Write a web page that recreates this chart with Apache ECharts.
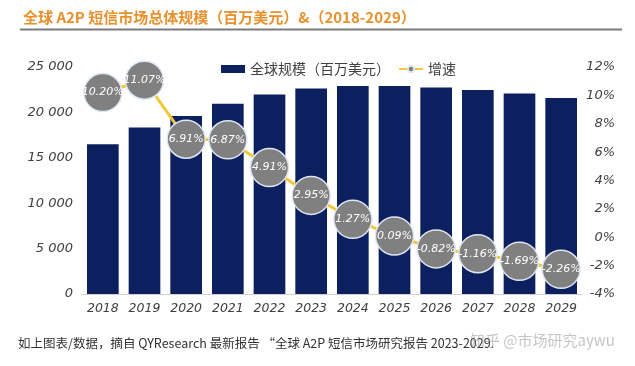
<!DOCTYPE html>
<html><head><meta charset="utf-8">
<script src="https://cdn.jsdelivr.net/npm/echarts@6/dist/echarts.min.js"></script>
<style>html,body{margin:0;padding:0;background:#fff}#c{width:635px;height:366px}</style>
</head><body><div id="c"></div>
<script>
const years = ['2018','2019','2020','2021','2022','2023','2024','2025','2026','2027','2028','2029'];
const marketSize = [16500,18330,19590,20940,21970,22620,22900,22920,22730,22470,22090,21590];
const growthRate = [10.20,11.07,6.91,6.87,4.91,2.95,1.27,0.09,-0.82,-1.16,-1.69,-2.26];
const leftTicks = [0,5000,10000,15000,20000,25000];
const rightTicks = [-4,-2,0,2,4,6,8,10,12];

const numFont = 'DejaVu Sans';
const chart = echarts.init(document.getElementById('c'));
chart.setOption({
  animation:false,
  title:{text:'全球 A2P 短信市场总体规模（百万美元）&（2018-2029）',left:18,top:5,
    textStyle:{color:'#e8912c',fontSize:15,fontWeight:'bold',fontFamily:'Noto Sans CJK SC'}},
  graphic:[
    {type:'line',shape:{x1:20,y1:29.5,x2:622,y2:29.5},style:{stroke:'#7a7a80',lineWidth:2}},
    {type:'text',left:18,top:337,style:{text:'如上图表/数据，摘自 QYResearch 最新报告 “全球 A2P 短信市场研究报告 2023-2029.',fill:'#333',font:'12.5px "Noto Sans CJK SC"'}},
    {type:'text',left:470,top:333,style:{text:'知乎 @市场研究aywu',fill:'rgba(150,150,150,0.55)',font:'15px "Noto Sans CJK SC"'}}
  ],
  legend:{left:216,top:57,itemGap:8,itemWidth:24,itemHeight:8,
    textStyle:{color:'#404040',fontSize:14,fontFamily:'Noto Sans CJK SC'},
    data:[{name:'全球规模（百万美元）',icon:'rect'},{name:'增速'}]},
  grid:{left:82,right:53,top:67,bottom:72},
  xAxis:{type:'category',data:years,
    axisLine:{lineStyle:{color:'#d0d0d0'}},axisTick:{show:false},
    axisLabel:{color:'#404040',fontSize:12.5,fontStyle:'italic',fontFamily:numFont,margin:8}},
  yAxis:[
    {type:'value',min:0,max:25000,interval:5000,splitLine:{show:false},
     axisLine:{show:false},axisTick:{show:false},
     axisLabel:{color:'#404040',fontSize:13,fontStyle:'italic',fontFamily:numFont,margin:9,
       formatter:v=>v>=1000?(Math.floor(v/1000)+' '+String(v%1000).padStart(3,'0')):String(v)}},
    {type:'value',min:-4,max:12,interval:2,splitLine:{show:false},
     axisLine:{show:false},axisTick:{show:false},
     axisLabel:{color:'#404040',fontSize:13,fontStyle:'italic',fontFamily:numFont,margin:33,align:'right',
       formatter:v=>v+'%'}}
  ],
  series:[
    {name:'全球规模（百万美元）',type:'bar',data:marketSize,barCategoryGap:'24%',
     itemStyle:{color:'#0c1f5f'}},
    {name:'增速',type:'line',yAxisIndex:1,data:growthRate,symbol:'circle',symbolSize:38,
     lineStyle:{color:'#f0c83a',width:3},
     itemStyle:{color:'#808080',borderColor:'#dfe6f0',borderWidth:1.5},
     label:{show:true,position:'inside',color:'#fff',fontSize:11,fontStyle:'italic',fontFamily:numFont,
       formatter:p=>p.value.toFixed(2)+'%'}}
  ]
});
</script></body></html>
